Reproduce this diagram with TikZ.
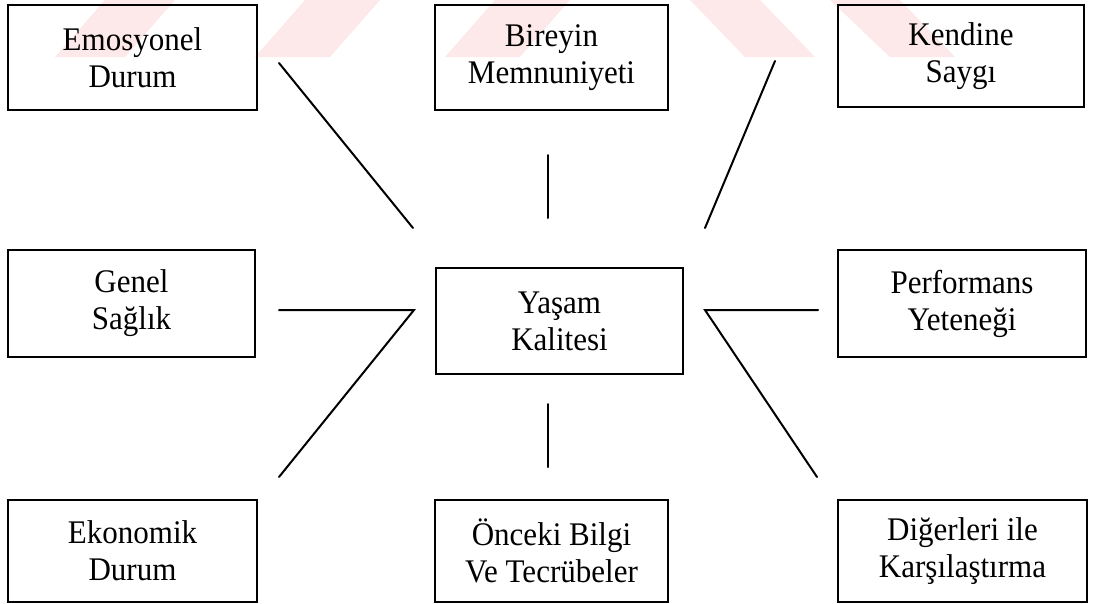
\documentclass[tikz,border=0pt]{standalone}
\usepackage{fontspec}
\setmainfont{Liberation Serif}
\newfontfamily\boxfont[FakeStretch=0.94]{Liberation Serif}
\definecolor{wm}{RGB}{253,233,233}
\tikzset{
  box/.style={draw=black, line width=1.6pt, align=center, inner sep=0pt,
    font=\boxfont\fontsize{33}{37}\selectfont},
  conn/.style={draw=black, line width=2pt, line cap=round, line join=miter},
  wmark/.style={fill=wm, draw=none}
}
\begin{document}
\begin{tikzpicture}[x=1pt,y=-1pt]
\useasboundingbox (0,0) rectangle (1093,603);
% watermark
\fill[wmark] (55,57) -- (125,57) -- (175,0) -- (105,0) -- cycle;
\fill[wmark] (255,57) -- (330,57) -- (380,0) -- (305,0) -- cycle;
\fill[wmark] (445,57) -- (520,57) -- (570,0) -- (495,0) -- cycle;
\fill[wmark] (690,0) -- (760,0) -- (815,57) -- (745,57) -- cycle;
\fill[wmark] (830,0) -- (900,0) -- (955,57) -- (890,57) -- cycle;
% boxes
\node[box, minimum width=249pt, minimum height=105pt] (emo) at (132.5,57.5) {Emosyonel\\Durum};
\node[box, minimum width=233pt, minimum height=105pt] (bir) at (551.5,57.5) {Bireyin\\Memnuniyeti};
\node[box, minimum width=246pt, minimum height=102pt] (ken) at (961,56) {Kendine\\Saygı};
\node[box, minimum width=247pt, minimum height=107pt] (gen) at (131.5,303.5) {Genel\\Sağlık};
\node[box, minimum width=247pt, minimum height=106pt] (yas) at (559.5,321) {Yaşam\\Kalitesi};
\node[box, minimum width=248pt, minimum height=107pt] (per) at (962,303.5) {Performans\\Yeteneği};
\node[box, minimum width=249pt, minimum height=102pt] (eko) at (132.5,551) {Ekonomik\\Durum};
\node[box, minimum width=233pt, minimum height=102pt] (onc) at (551.5,551) {Önceki Bilgi\\Ve Tecrübeler};
\node[box, minimum width=249pt, minimum height=102pt] (dig) at (962.5,551) {Diğerleri ile\\Karşılaştırma};
% connector ends
\coordinate (a1) at (279,63);  \coordinate (a2) at (413,228);
\coordinate (b1) at (548,155); \coordinate (b2) at (548,218);
\coordinate (c1) at (775,61);  \coordinate (c2) at (705,228);
\coordinate (g1) at (279,310); \coordinate (g2) at (414,310); \coordinate (g3) at (279,477);
\coordinate (p1) at (818,310); \coordinate (p2) at (705,310); \coordinate (p3) at (817,477);
\coordinate (o1) at (548,404); \coordinate (o2) at (548,467);
% connectors
\draw[conn] (a1) -- (a2);
\draw[conn] (b1) -- (b2);
\draw[conn] (c1) -- (c2);
\draw[conn] (g1) -- (g2) -- (g3);
\draw[conn] (p1) -- (p2) -- (p3);
\draw[conn] (o1) -- (o2);
\end{tikzpicture}
\end{document}
